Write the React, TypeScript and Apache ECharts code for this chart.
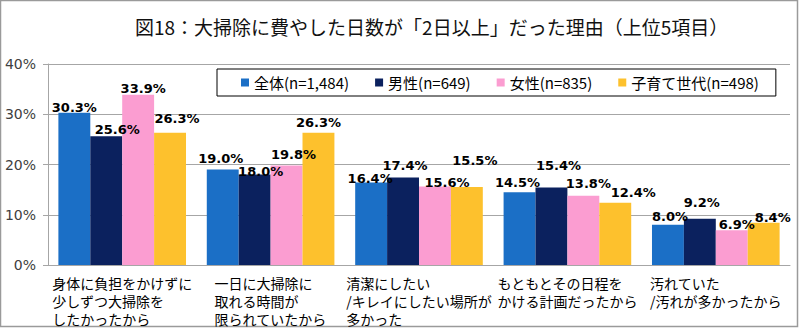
import React, { useEffect, useRef } from "react";
import * as echarts from "echarts";

const TITLE = "図18：大掃除に費やした日数が「2日以上」だった理由（上位5項目）";
const categories = [
  "身体に負担をかけずに\n少しずつ大掃除を\nしたかったから",
  "一日に大掃除に\n取れる時間が\n限られていたから",
  "清潔にしたい\n/キレイにしたい場所が\n多かった",
  "もともとその日程を\nかける計画だったから",
  "汚れていた\n/汚れが多かったから",
];
const seriesNames = ["全体(n=1,484)", "男性(n=649)", "女性(n=835)", "子育て世代(n=498)"];
const allValues = [30.3, 19.0, 16.4, 14.5, 8.0];
const maleValues = [25.6, 18.0, 17.4, 15.4, 9.2];
const femaleValues = [33.9, 19.8, 15.6, 13.8, 6.9];
const parentValues = [26.3, 26.3, 15.5, 12.4, 8.4];
const yTicks = [0, 10, 20, 30, 40];

const colors = ["#1b6fc6", "#0b215e", "#fb9dd1", "#fdc12d"];
// label nudges [dx, dy] per series, per category
const labelOffsets = [
  [[0, 1], [-2, -5], [-1, 2], [-2, -3], [2, -2]],
  [[11, 0], [6, 3], [2, -6], [7, -16], [2, -10]],
  [[5, 0], [7, -5], [12, 2], [5, -6], [5, 1]],
  [[7, -8], [0, -4], [8, -20], [18, -4], [9, 1]],
];

export default function App() {
  const ref = useRef<HTMLDivElement>(null);
  useEffect(() => {
    if (!ref.current) return;
    const chart = echarts.init(ref.current, null, { renderer: "svg" });
    const valueSets = [allValues, maleValues, femaleValues, parentValues];
    const series = seriesNames.map((name, si) => ({
      name,
      type: "bar",
      barGap: "0%",
      barCategoryGap: "14%",
      itemStyle: { color: colors[si] },
      label: {
        show: true,
        position: "top",
        distance: 0,
        color: "#000",
        fontFamily: "DejaVu Sans",
        fontWeight: "bold",
        fontSize: 13,
        formatter: (p: any) => Number(p.value).toFixed(1) + "%",
      },
      data: valueSets[si].map((v, ci) => ({
        value: v,
        label: { offset: labelOffsets[si][ci] },
      })),
    }));
    chart.setOption({
      animation: false,
      backgroundColor: "#fff",
      title: {
        text: TITLE,
        left: 130,
        top: 12,
        textStyle: {
          fontFamily: "Noto Sans CJK JP",
          fontSize: 19,
          fontWeight: "normal",
          color: "#111",
        },
      },
      legend: {
        data: seriesNames,
        left: 217,
        top: 69,
        padding: [6, 17, 6, 24],
        itemGap: 26,
        itemWidth: 8,
        itemHeight: 8,
        icon: "rect",
        borderColor: "#000",
        borderWidth: 1,
        textStyle: {
          fontFamily: "Noto Sans CJK JP",
          fontSize: 15,
          color: "#000",
        },
      },
      grid: { left: 48, right: 10, top: 64, bottom: 63 },
      xAxis: {
        type: "category",
        data: categories,
        axisTick: { show: false },
        axisLine: { lineStyle: { color: "#a6a6a6" } },
        axisLabel: {
          interval: 0,
          margin: 9,
          formatter: (v: string) =>
            v
              .split("\n")
              .map((l) => `{a|${l}}`)
              .join("\n"),
          rich: {
            a: {
              fontFamily: "Noto Sans CJK JP",
              fontSize: 14,
              lineHeight: 18,
              color: "#000",
              align: "left",
            },
          },
        },
      },
      yAxis: {
        type: "value",
        min: yTicks[0],
        max: yTicks[yTicks.length - 1],
        interval: 10,
        axisLine: { show: true, lineStyle: { color: "#a6a6a6" } },
        axisTick: { show: true, length: 5, lineStyle: { color: "#a6a6a6" } },
        splitLine: { lineStyle: { color: "#a6a6a6" } },
        axisLabel: {
          margin: 12,
          fontFamily: "DejaVu Sans",
          fontSize: 14,
          color: "#404040",
          formatter: (v: number) => v + "%",
        },
      },
      graphic: [
        {
          type: "rect",
          shape: { x: 0.5, y: 0.5, width: 797, height: 326 },
          style: { fill: "none", stroke: "#9a9a9a", lineWidth: 1.5 },
          silent: true,
        },
      ],
      series,
    });
    return () => chart.dispose();
  }, []);
  return (
    <div
      ref={ref}
      style={{ position: "fixed", left: 0, top: 0, width: 800, height: 328 }}
    />
  );
}
